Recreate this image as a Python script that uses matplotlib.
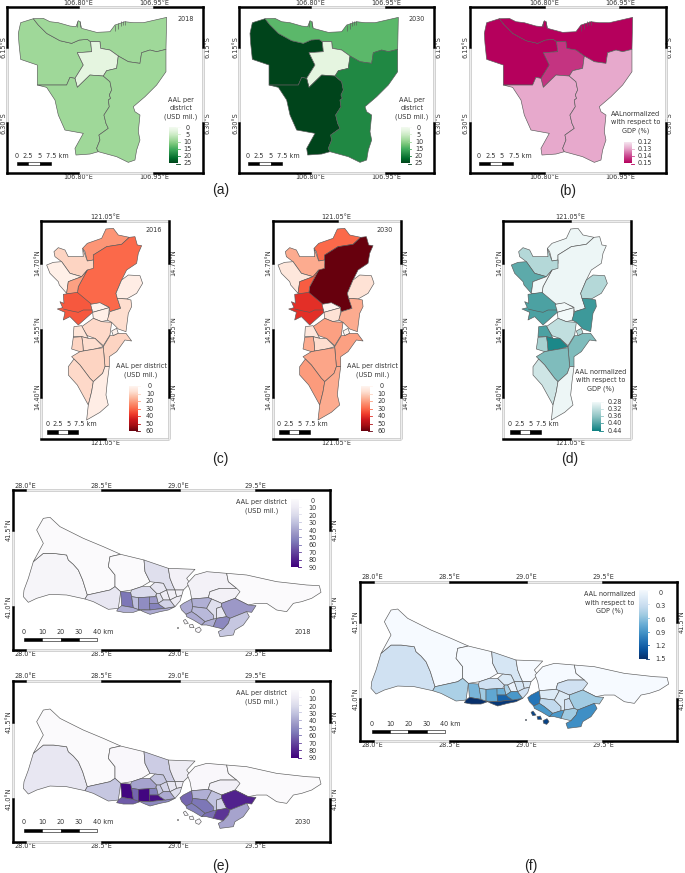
#!/usr/bin/env python3
"""Annual average loss per district maps for Jakarta, Metro Manila and Istanbul."""

import matplotlib

matplotlib.use("Agg")
import matplotlib.pyplot as plt
import numpy as np
from matplotlib.collections import LineCollection, PolyCollection
from matplotlib.colors import LinearSegmentedColormap, Normalize
from matplotlib.patches import Rectangle

W, H = 685, 873
plt.rcParams["font.family"] = ["DejaVu Sans"]
TEXT = "#333333"

# District outlines are digitised vertices on a grid, turned into lon/lat by the
# city's georeference below.
JAKARTA_DISTRICTS = [
    # West
    [(62, 68), (100, 56), (115, 75), (140, 100), (180, 122), (215, 130), (238, 120), (262, 118), (272, 125),
     (275, 155), (232, 158), (250, 195), (225, 235), (210, 232), (200, 255), (150, 255), (112, 255),
     (112, 195), (62, 178), (57, 130), (55, 100)],
    # North
    [(100, 56), (130, 55), (150, 65), (175, 68), (210, 78), (228, 80), (235, 62), (240, 65), (245, 85),
     (290, 97), (330, 95), (345, 75), (375, 65), (400, 68), (430, 68), (500, 52), (498, 148), (470, 155),
     (450, 150), (425, 158), (420, 190), (385, 185), (355, 168), (330, 150), (302, 145), (300, 125),
     (272, 125), (262, 118), (238, 120), (215, 130), (180, 122), (140, 100), (115, 75)],
    # Central
    [(272, 125), (300, 125), (302, 145), (330, 150), (355, 168), (350, 205), (320, 212), (310, 228),
     (270, 225), (232, 262), (225, 235), (250, 195), (232, 158), (275, 155)],
    # South
    [(232, 262), (270, 225), (310, 228), (330, 245), (335, 270), (328, 285), (332, 295), (325, 300),
     (328, 320), (312, 345), (318, 370), (325, 385), (297, 405), (300, 420), (290, 445), (295, 455),
     (270, 462), (228, 465), (225, 445), (250, 400), (195, 390), (175, 345), (165, 300), (140, 262),
     (112, 255), (150, 255), (200, 255), (210, 232), (225, 235)],
    # East
    [(310, 228), (320, 212), (350, 205), (355, 168), (385, 185), (420, 190), (425, 158), (450, 150),
     (470, 155), (498, 148), (498, 215), (470, 255), (435, 290), (400, 320), (405, 335), (420, 345),
     (415, 395), (420, 420), (410, 450), (405, 480), (385, 487), (350, 470), (295, 455), (290, 445),
     (300, 420), (297, 405), (325, 385), (318, 370), (312, 345), (328, 320), (325, 300), (332, 295),
     (328, 285), (335, 270), (330, 245)],
]
JAKARTA_PIERS = [
    [(232, 64), (232, 80)], [(240, 62), (240, 82)], [(345, 75), (345, 92)], [(355, 70), (355, 86)],
    [(362, 62), (362, 78)], [(368, 62), (368, 76)], [(374, 62), (374, 74)],
]
JAKARTA_2018 = [9.5, 9.5, 3.2, 9.5, 9.5]
JAKARTA_2030 = [25, 14, 3.2, 25, 19]
JAKARTA_GDP = [0.15, 0.15, 0.143, 0.13, 0.13]

MANILA_DISTRICTS = [
    [(248, 130), (262, 115), (305, 100), (318, 72), (340, 70), (355, 90), (388, 97), (365, 118), (320, 125),
     (280, 150), (280, 165), (262, 168), (255, 140)],
    [(388, 97), (405, 95), (412, 120), (425, 122), (415, 145), (410, 175), (380, 195), (365, 225), (348, 265),
     (362, 310), (330, 320), (325, 305), (300, 295), (272, 298), (232, 268), (235, 245), (262, 195),
     (280, 175), (280, 150), (320, 125), (365, 118)],
    [(162, 140), (175, 128), (195, 135), (205, 155), (250, 155), (248, 130), (262, 168), (280, 165),
     (280, 190), (262, 195), (245, 215), (210, 205), (185, 170), (165, 155)],
    [(140, 180), (160, 172), (185, 170), (210, 205), (245, 215), (205, 230), (200, 265), (178, 240),
     (175, 230), (150, 205)],
    [(205, 230), (245, 215), (262, 195), (235, 245), (232, 265), (200, 265)],
    [(190, 268), (232, 262), (275, 298), (278, 322), (235, 360), (210, 335), (190, 345), (195, 322),
     (172, 312), (188, 308), (180, 290), (192, 295)],
    [(272, 298), (300, 293), (328, 308), (278, 322)],
    [(278, 322), (328, 308), (325, 345), (305, 350), (280, 340)],
    [(348, 265), (365, 225), (385, 210), (420, 212), (428, 235), (410, 265), (380, 282), (352, 280)],
    [(352, 280), (380, 282), (393, 285), (395, 305), (385, 325), (378, 380), (355, 372), (335, 352),
     (322, 345), (330, 320), (362, 310)],
    [(245, 365), (280, 340), (305, 350), (335, 352), (330, 390), (310, 422), (285, 400), (262, 392)],
    [(335, 378), (350, 370), (355, 385), (340, 392)],
    [(340, 392), (355, 385), (378, 385), (395, 408), (375, 405), (350, 440), (328, 455), (328, 485),
     (315, 485), (310, 425), (330, 392)],
    [(222, 365), (245, 362), (265, 400), (245, 395), (220, 395)],
    [(245, 395), (265, 400), (285, 400), (310, 425), (285, 432), (250, 438), (248, 412)],
    [(220, 397), (245, 395), (248, 412), (250, 438), (240, 440), (215, 432)],
    [(215, 455), (240, 440), (250, 438), (285, 432), (310, 428), (315, 485), (308, 505), (280, 530),
     (270, 520), (240, 480), (222, 462)],
    [(205, 485), (222, 462), (240, 480), (270, 520), (280, 530), (275, 560), (265, 600), (232, 540), (205, 510)],
    [(280, 530), (308, 505), (315, 485), (328, 485), (322, 530), (318, 570), (325, 600), (300, 622),
     (260, 645), (265, 600), (275, 560)],
]
MANILA_RIVER = [[(190, 312), (215, 318), (235, 322), (250, 315), (278, 315)]]
MANILA_2016 = [22, 30, 10, 2, 20, 33, 1, 2, 3, 8, 9, 1, 10, 6, 8, 10, 10, 9, 3]
MANILA_2030 = [30, 60, 18, 5, 32, 40, 0, 7, 7, 18, 20, 0, 20, 5, 8, 18, 19, 21, 18]
MANILA_GDP = [0.285, 0.285, 0.33, 0.39, 0.28, 0.40, 0.28, 0.28, 0.33, 0.41, 0.32, 0.33, 0.37, 0.40, 0.43,
              0.34, 0.37, 0.31, 0.285]

ISTANBUL_DISTRICTS = [
    [(72, 345), (85, 310), (100, 260), (130, 235), (160, 235), (200, 240), (205, 255), (220, 268), (235, 285),
     (248, 315), (262, 360), (255, 372), (200, 360), (150, 358), (110, 370), (85, 382), (70, 365)],
    [(100, 260), (130, 205), (110, 165), (130, 130), (150, 127), (180, 155), (250, 190), (310, 215), (362, 238),
     (330, 245), (325, 275), (345, 300), (345, 335), (330, 345), (262, 360), (248, 315), (235, 285), (220, 268),
     (205, 255), (200, 240), (160, 235), (130, 235)],
    [(362, 238), (432, 255), (435, 290), (450, 320), (425, 335), (395, 345), (362, 350), (345, 335), (345, 300),
     (325, 275), (330, 245)],
    [(432, 255), (505, 280), (510, 310), (518, 330), (525, 345), (500, 345), (490, 325), (465, 322), (450, 320),
     (435, 290)],
    [(505, 280), (585, 283), (560, 310), (570, 325), (550, 345), (525, 345), (518, 330), (510, 310)],
    [(262, 360), (330, 345), (345, 335), (362, 350), (355, 400), (325, 403), (280, 380), (255, 372)],
    [(362, 350), (392, 352), (395, 365), (400, 398), (365, 392)],
    [(355, 400), (365, 392), (400, 398), (420, 405), (400, 412), (370, 412), (350, 408)],
    [(395, 345), (425, 335), (450, 335), (470, 355), (465, 365), (448, 366), (415, 368), (395, 365), (392, 352)],
    [(395, 365), (415, 368), (415, 403), (420, 405), (400, 398)],
    [(415, 368), (448, 366), (450, 405), (415, 403)],
    [(448, 366), (470, 365), (475, 385), (448, 385)],
    [(448, 385), (475, 385), (480, 390), (495, 400), (465, 403), (450, 405)],
    [(420, 405), (450, 405), (465, 403), (495, 400), (525, 395), (505, 405), (480, 410), (450, 418), (430, 410)],
    [(450, 335), (465, 322), (490, 325), (500, 345), (480, 355), (470, 355)],
    [(470, 355), (480, 355), (490, 375), (475, 385), (470, 365)],
    [(480, 355), (500, 345), (510, 375), (490, 375)],
    [(500, 345), (525, 345), (530, 365), (510, 375)],
    [(490, 375), (510, 375), (525, 395), (495, 400), (480, 390), (475, 385)],
    [(525, 345), (550, 345), (545, 362), (530, 365)],
    [(530, 365), (545, 362), (540, 378), (525, 395), (510, 375)],
    [(562, 325), (585, 300), (620, 290), (680, 295), (685, 320), (710, 340), (660, 340), (630, 350), (625, 368),
     (575, 372), (570, 345)],
    [(680, 295), (740, 300), (830, 320), (920, 330), (958, 332), (963, 352), (935, 370), (905, 380), (880, 385),
     (860, 410), (830, 405), (800, 385), (770, 385), (745, 390), (705, 370), (710, 340), (685, 320)],
    [(630, 350), (660, 340), (710, 340), (720, 350), (705, 370), (665, 385), (635, 372), (625, 368)],
    [(540, 393), (550, 385), (575, 372), (578, 395), (575, 410), (558, 418), (545, 405)],
    [(575, 372), (625, 368), (635, 372), (620, 400), (578, 395)],
    [(578, 395), (620, 400), (640, 420), (640, 432), (615, 440), (590, 420), (575, 410)],
    [(558, 418), (575, 410), (590, 420), (615, 440), (605, 450), (580, 435), (560, 425)],
    [(605, 450), (615, 440), (640, 432), (650, 430), (640, 455), (620, 450)],
    [(635, 372), (665, 385), (665, 395), (650, 400), (650, 430), (640, 432), (640, 420), (620, 400)],
    [(650, 400), (665, 395), (680, 425), (650, 430)],
    [(665, 395), (665, 385), (705, 370), (745, 390), (768, 392), (755, 412), (740, 410), (690, 430), (680, 425)],
    [(650, 430), (680, 425), (690, 430), (685, 445), (670, 462), (640, 455)],
    [(690, 430), (740, 410), (748, 425), (730, 450), (705, 465), (700, 480), (660, 485), (655, 470), (670, 462),
     (685, 445)],
    [(550, 437), (556, 433), (565, 445), (555, 447)],
    [(568, 450), (578, 448), (582, 458), (570, 458)],
    [(586, 462), (598, 456), (604, 465), (597, 473), (588, 470)],
    [(531, 457), (535, 457), (535, 460), (531, 460)],
]
ISTANBUL_2018 = [5, 1, 1, 20, 8, 15, 58, 38, 22, 33, 50, 46, 54, 40, 15, 20, 12, 10, 25, 8, 12, 8, 1, 8, 40, 38,
                 35, 40, 38, 20, 15, 46, 52, 30, 3, 3, 3, 3]
ISTANBUL_2030 = [15, 1, 3, 28, 12, 30, 88, 65, 42, 62, 88, 55, 85, 52, 30, 30, 25, 15, 40, 12, 20, 3, 1, 10, 62,
                 38, 58, 55, 60, 32, 25, 80, 75, 42, 3, 3, 3, 3]
ISTANBUL_GDP = [0.3, 0.01, 0.01, 0.25, 0.01, 0.5, 0.7, 1.5, 0.3, 0.55, 0.8, 0.75, 1.2, 1.45, 0.2, 0.5, 0.1, 0.25,
                0.9, 0.2, 0.3, 0.01, 0.01, 0.3, 1.1, 0.2, 0.4, 0.9, 0.9, 0.2, 0.3, 0.55, 0.55, 0.95, 1.4, 1.4, 1.4, 1.4]

GREENS_TICKS = [0, 5, 10, 15, 20, 25]
RDPU_TICKS = [0.12, 0.13, 0.14, 0.15]
REDS_TICKS = [0, 10, 20, 30, 40, 50, 60]
TEAL_TICKS = [0.28, 0.32, 0.36, 0.40, 0.44]
PURPLES_TICKS = [0, 10, 20, 30, 40, 50, 60, 70, 80, 90]
BLUES_TICKS = [0, 0.3, 0.6, 0.9, 1.2, 1.5]

MAGENTA = LinearSegmentedColormap.from_list("magenta", ["#f8eff5", "#e7a9cc", "#cb4b92", "#b5005c"])
TEAL = LinearSegmentedColormap.from_list("teal", ["#f2f9f9", "#8fc4c4", "#0b7f80"])

# lon, lat, grid x, grid y of the reference point and pixels per degree
CITIES = {
    "jakarta": dict(lon=106.80, lat=-6.15, gx=235, gy=140, k=507, km_lon=111.0,
                    lon_ticks=[106.80, 106.95], lat_ticks=[-6.15, -6.30],
                    lon_fmt="{:.2f}°E", lat_fmt="{:.2f}°S", districts=JAKARTA_DISTRICTS, lines=JAKARTA_PIERS,
                    scale=[0, 2.5, 5, 7.5]),
    "manila": dict(lon=121.05, lat=14.70, gx=316, gy=174, k=447, km_lon=107.5,
                   lon_ticks=[121.05], lat_ticks=[14.70, 14.55, 14.40],
                   lon_fmt="{:.2f}°E", lat_fmt="{:.2f}°N", districts=MANILA_DISTRICTS, lines=MANILA_RIVER,
                   scale=[0, 2.5, 5, 7.5]),
    "istanbul": dict(lon=28.0, lat=41.5, gx=75, gy=165, k=153.8, km_lon=84.0,
                     lon_ticks=[28.0, 28.5, 29.0, 29.5], lat_ticks=[41.5, 41.0],
                     lon_fmt="{:.1f}°E", lat_fmt="{:.1f}°N", districts=ISTANBUL_DISTRICTS, lines=[],
                     scale=[0, 10, 20, 30, 40]),
}


def px_axes(fig, x0, y0, x1, y1):
    return fig.add_axes([x0 / W, 1 - y1 / H, (x1 - x0) / W, (y1 - y0) / H])


def px_text(fig, x, y, text, size=4.7, ha="center", **kwargs):
    fig.text(x / W, 1 - y / H, text, fontsize=size, ha=ha, va="center", color=kwargs.pop("color", TEXT),
             linespacing=1.45, **kwargs)


def zebra_frame(ax):
    x0, x1 = ax.get_xlim()
    y0, y1 = ax.get_ylim()
    xedges = [x0] + sorted(ax.get_xticks()) + [x1]
    yedges = [y1] + sorted(ax.get_yticks(), reverse=True) + [y0]
    for trans, edges, make in (
        (ax.get_xaxis_transform(), xedges, lambda a, b, s: ([a, b], [s, s])),
        (ax.get_yaxis_transform(), yedges, lambda a, b, s: ([s, s], [a, b])),
    ):
        for side in (0, 1):
            for i, (a, b) in enumerate(zip(edges[:-1], edges[1:])):
                xs, ys = make(a, b, side)
                if i % 2 == 0:
                    ax.plot(xs, ys, transform=trans, color="black", lw=1.8, clip_on=False,
                            solid_capstyle="projecting", zorder=6)
                else:
                    ax.plot(xs, ys, transform=trans, color="#c4c4c4", lw=1.8, clip_on=False,
                            solid_capstyle="butt", zorder=5)
                    ax.plot(xs, ys, transform=trans, color="#f6f6f6", lw=0.6, clip_on=False,
                            solid_capstyle="butt", zorder=5)


def scale_bar(ax, fig, city, x_px, y_px):
    """Alternating km scale bar, sized from the map's own degrees per km."""
    fx0, fy0, fw, fh = ax.get_position().bounds
    px_w = fw * W
    deg_per_px = (ax.get_xlim()[1] - ax.get_xlim()[0]) / px_w
    left_px = fx0 * W
    bar_h = 3.2 * (ax.get_ylim()[1] - ax.get_ylim()[0]) / (fh * H)
    lat = ax.get_ylim()[0] + ((1 - fy0) * H - y_px) * (ax.get_ylim()[1] - ax.get_ylim()[0]) / (fh * H)
    lon0 = ax.get_xlim()[0] + (x_px - left_px) * deg_per_px
    marks = city["scale"]
    for i, (a, b) in enumerate(zip(marks[:-1], marks[1:])):
        ax.add_patch(Rectangle((lon0 + a / city["km_lon"], lat - bar_h / 2), (b - a) / city["km_lon"], bar_h,
                               facecolor="black" if i % 2 == 0 else "white", edgecolor="black", lw=0.4, zorder=4))
    for m in marks[:-1]:
        px_text(fig, x_px + m / city["km_lon"] / deg_per_px, y_px - 8, f"{m:g}")
    last = x_px + marks[-1] / city["km_lon"] / deg_per_px
    px_text(fig, last - 4.5, y_px - 8, f"{marks[-1]:g} km", ha="left")


def colour_legend(fig, cmap, ticks, bar, label_x, label_y, fmt="{:g}"):
    x0, y0, x1, y1 = bar
    cax = px_axes(fig, x0, y0, x1, y1)
    gradient = np.linspace(ticks[0], ticks[-1], 256).reshape(-1, 1)
    norm = Normalize(ticks[0], ticks[-1])
    cax.imshow(gradient, cmap=cmap, norm=norm, aspect="auto", origin="upper",
               extent=[0, 1, ticks[-1], ticks[0]])
    cax.set_axis_off()
    for v in ticks:
        cax.plot([0.85, 1.3], [v, v], color=cmap(norm(v)), lw=0.6, clip_on=False)
    ys = np.linspace(label_y[0], label_y[1], len(ticks))
    for v, y in zip(ticks, ys):
        px_text(fig, label_x, y, fmt.format(v))


def map_panel(fig, city_name, box, tick_px, values, cmap, vmax_ticks):
    """box is the frame in pixels, tick_px the x and y pixel of the city's reference point."""
    city = CITIES[city_name]
    x0, y0, x1, y1 = box
    k = city["k"]
    ax = px_axes(fig, x0, y0, x1, y1)
    ax.set_xlim(city["lon"] + (x0 - tick_px[0]) / k, city["lon"] + (x1 - tick_px[0]) / k)
    ax.set_ylim(city["lat"] - (y1 - tick_px[1]) / k, city["lat"] - (y0 - tick_px[1]) / k)

    def to_lonlat(points):
        pts = np.asarray(points, dtype=float)
        return np.column_stack([city["lon"] + (pts[:, 0] - city["gx"]) / (3 * k),
                                city["lat"] - (pts[:, 1] - city["gy"]) / (3 * k)])

    polys = PolyCollection([to_lonlat(p) for p in city["districts"]], array=np.asarray(values, dtype=float),
                           cmap=cmap, norm=Normalize(vmax_ticks[0], vmax_ticks[-1]),
                           edgecolors="#5a5a5a", linewidths=0.45, zorder=2)
    ax.add_collection(polys)
    if city["lines"]:
        ax.add_collection(LineCollection([to_lonlat(l) for l in city["lines"]], colors="#5a5a5a",
                                         linewidths=0.45, zorder=3))

    ax.set_xticks(city["lon_ticks"], [city["lon_fmt"].format(v) for v in city["lon_ticks"]])
    ax.set_yticks(city["lat_ticks"], [city["lat_fmt"].format(abs(v)) for v in city["lat_ticks"]])
    ax.tick_params(axis="both", length=0, labelsize=4.7, labelcolor=TEXT, pad=0.9,
                   top=False, bottom=False, left=False, right=False,
                   labeltop=True, labelbottom=True, labelleft=True, labelright=True)
    for label in ax.get_yticklabels():
        label.set_rotation(90)
        label.set_va("center")
    for spine in ax.spines.values():
        spine.set_visible(False)
    zebra_frame(ax)
    return ax, city


def main():
    fig = plt.figure(figsize=(W / 100, H / 100), dpi=100)

    # Jakarta row
    usd_short = "AAL per\ndistrict\n(USD mil.)"
    gdp_title = "with respect to\nGDP (%)"
    ax, city = map_panel(fig, "jakarta", (7.3, 7.3, 203.3, 172.7), (78.3, 46.7), JAKARTA_2018, plt.cm.Greens, GREENS_TICKS)
    scale_bar(ax, fig, city, 16.7, 163.5)
    colour_legend(fig, plt.cm.Greens, GREENS_TICKS, (169.3, 127, 180.5, 163.5), 187.5, (128, 163))
    px_text(fig, 180.7, 108.5, usd_short)
    px_text(fig, 185.7, 19, "2018")

    ax, city = map_panel(fig, "jakarta", (239.3, 7.3, 434, 172.7), (310, 46.7), JAKARTA_2030, plt.cm.Greens, GREENS_TICKS)
    scale_bar(ax, fig, city, 247.7, 163.5)
    colour_legend(fig, plt.cm.Greens, GREENS_TICKS, (400.7, 127, 411.7, 163.5), 419, (128, 163))
    px_text(fig, 411.7, 108.5, usd_short)
    px_text(fig, 416.7, 19, "2030")

    ax, city = map_panel(fig, "jakarta", (469.7, 7.3, 665.7, 172.7), (544.3, 46.7), JAKARTA_GDP, MAGENTA, RDPU_TICKS)
    scale_bar(ax, fig, city, 479, 163.5)
    colour_legend(fig, MAGENTA, RDPU_TICKS, (624.3, 141.7, 634.5, 163.5), 645, (141.7, 163))
    px_text(fig, 636, 122, "AALnormalized\n" + gdp_title)

    # Manila row
    usd_wide = "AAL per district\n(USD mil.)"
    ax, city = map_panel(fig, "manila", (41.3, 221, 169.3, 439), (105.3, 263), MANILA_2016, plt.cm.Reds, REDS_TICKS)
    scale_bar(ax, fig, city, 47.3, 432)
    colour_legend(fig, plt.cm.Reds, REDS_TICKS, (129.3, 386, 140.7, 431), 150, (386.5, 431))
    px_text(fig, 141, 370.5, usd_wide)
    px_text(fig, 153.3, 230, "2016")

    ax, city = map_panel(fig, "manila", (272.7, 221, 400.7, 439), (336.7, 263), MANILA_2030, plt.cm.Reds, REDS_TICKS)
    scale_bar(ax, fig, city, 278.7, 432)
    colour_legend(fig, plt.cm.Reds, REDS_TICKS, (360.7, 386, 372.1, 431), 381.4, (386.5, 431))
    px_text(fig, 372.4, 370.5, usd_wide)
    px_text(fig, 384.7, 230, "2030")

    ax, city = map_panel(fig, "manila", (503.3, 221, 631.3, 439), (570, 263), MANILA_GDP, TEAL, TEAL_TICKS)
    scale_bar(ax, fig, city, 509.7, 432)
    colour_legend(fig, TEAL, TEAL_TICKS, (591.7, 401.7, 603.3, 430.7), 615, (401.7, 430.7), fmt="{:.2f}")
    px_text(fig, 601, 380, "AAL normalized\n" + gdp_title)

    # Istanbul panels
    ax, city = map_panel(fig, "istanbul", (12.7, 490, 330, 650), (25, 530), ISTANBUL_2018, plt.cm.Purples, PURPLES_TICKS)
    scale_bar(ax, fig, city, 24, 639.7)
    colour_legend(fig, plt.cm.Purples, PURPLES_TICKS, (291, 499, 301.7, 567.3), 312.7, (501, 567.7))
    px_text(fig, 261.7, 506.7, usd_wide)
    px_text(fig, 303, 631.7, "2018")

    ax, city = map_panel(fig, "istanbul", (12.7, 680.7, 330, 841.7), (25, 721.7), ISTANBUL_2030, plt.cm.Purples, PURPLES_TICKS)
    scale_bar(ax, fig, city, 24, 830.4)
    colour_legend(fig, plt.cm.Purples, PURPLES_TICKS, (291, 689.7, 301.7, 758), 312.7, (691.7, 758.4))
    px_text(fig, 261.7, 697.4, usd_wide)
    px_text(fig, 303, 822.4, "2030")

    ax, city = map_panel(fig, "istanbul", (360, 581.7, 677.3, 741), (372.7, 621.7), ISTANBUL_GDP, plt.cm.Blues, BLUES_TICKS)
    scale_bar(ax, fig, city, 371.7, 731.5)
    colour_legend(fig, plt.cm.Blues, BLUES_TICKS, (639, 590, 650, 659.3), 660.7, (593.3, 659))
    px_text(fig, 610, 603, "AAL normalized\n" + gdp_title)

    for x, y, letter in [(221, 190, "(a)"), (568, 191, "(b)"), (220, 459, "(c)"), (570, 459, "(d)"),
                         (221, 866, "(e)"), (531, 866, "(f)")]:
        px_text(fig, x, y, letter, size=10, family=["Liberation Sans"], color="#222222")

    fig.savefig("out.png", dpi=100)


if __name__ == "__main__":
    main()
